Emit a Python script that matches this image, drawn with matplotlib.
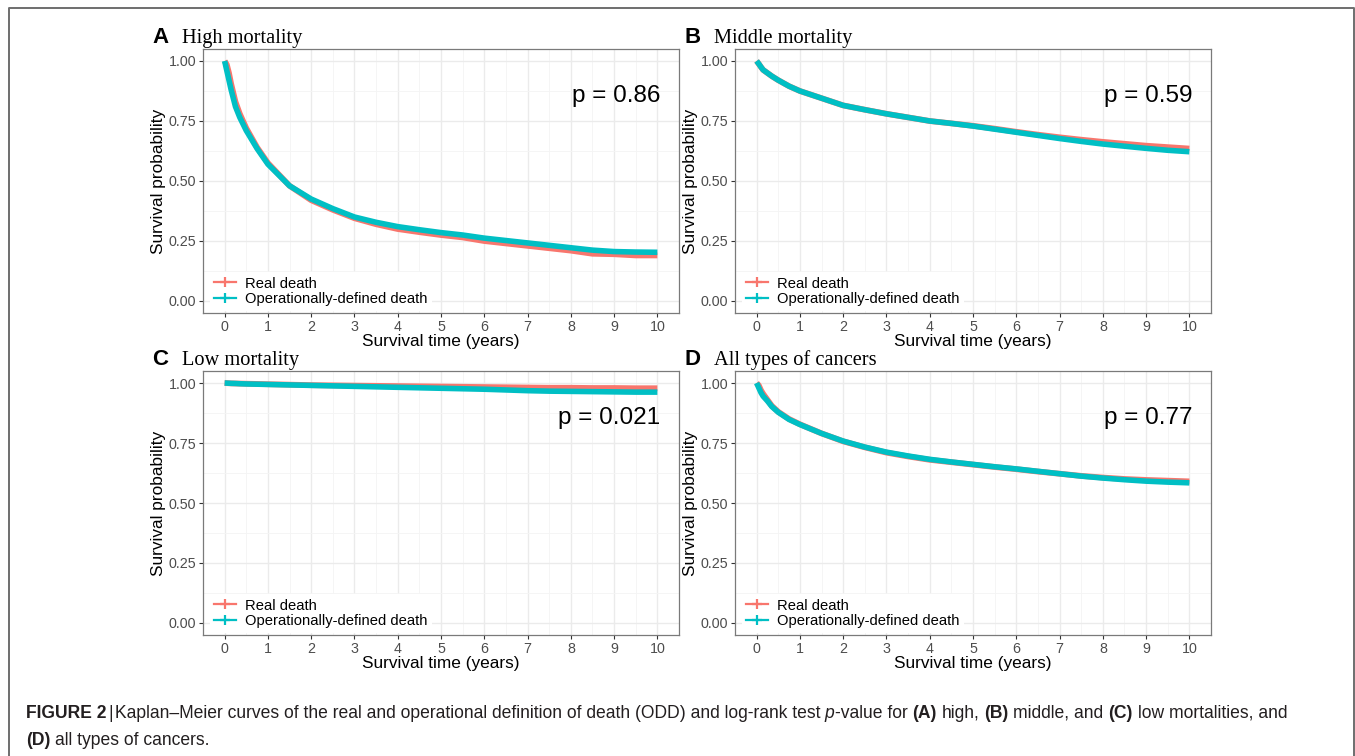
import matplotlib
matplotlib.use("Agg")
import matplotlib.pyplot as plt
from matplotlib.lines import Line2D
from matplotlib import font_manager as fm
import numpy as np

W, H = 1355, 756

# tempos (anos) em que as curvas foram lidas
tempo = [0, 0.05, 0.1, 0.15, 0.25, 0.35, 0.5, 0.75, 1, 1.5, 2, 2.5, 3, 3.5, 4, 4.5, 5, 5.5, 6, 6.5, 7, 7.5, 8, 8.5, 9, 9.5, 10]

# A - alta mortalidade
alta_real = [1.0, 0.985, 0.95, 0.905, 0.83, 0.78, 0.72, 0.64, 0.575, 0.48, 0.42, 0.38, 0.345, 0.32, 0.30, 0.287, 0.275, 0.265, 0.25, 0.24, 0.23, 0.22, 0.21, 0.197, 0.195, 0.19, 0.19]
alta_odd = [1.0, 0.96, 0.92, 0.88, 0.81, 0.765, 0.71, 0.635, 0.57, 0.48, 0.425, 0.385, 0.35, 0.328, 0.31, 0.297, 0.285, 0.275, 0.262, 0.252, 0.242, 0.232, 0.222, 0.212, 0.206, 0.204, 0.203]
# B - mortalidade intermediaria
media_real = [1.0, 0.988, 0.975, 0.963, 0.95, 0.937, 0.92, 0.895, 0.875, 0.845, 0.815, 0.797, 0.78, 0.765, 0.75, 0.74, 0.73, 0.718, 0.705, 0.693, 0.682, 0.672, 0.663, 0.655, 0.647, 0.641, 0.635]
media_odd = [1.0, 0.988, 0.975, 0.963, 0.95, 0.937, 0.92, 0.895, 0.875, 0.845, 0.815, 0.797, 0.78, 0.765, 0.75, 0.74, 0.729, 0.716, 0.703, 0.69, 0.677, 0.665, 0.654, 0.645, 0.636, 0.628, 0.622]
# C - baixa mortalidade
baixa_real = [1.0, 0.9995, 0.999, 0.9985, 0.998, 0.9975, 0.997, 0.996, 0.995, 0.993, 0.991, 0.99, 0.989, 0.988, 0.987, 0.986, 0.985, 0.984, 0.983, 0.982, 0.981, 0.98, 0.98, 0.979, 0.979, 0.978, 0.978]
baixa_odd = [1.0, 0.9995, 0.999, 0.9985, 0.998, 0.997, 0.996, 0.995, 0.994, 0.992, 0.99, 0.988, 0.986, 0.984, 0.982, 0.98, 0.978, 0.976, 0.974, 0.971, 0.968, 0.966, 0.965, 0.964, 0.963, 0.962, 0.962]
# D - todos os tipos de cancer
todos_real = [1.0, 0.99, 0.97, 0.955, 0.93, 0.905, 0.88, 0.85, 0.828, 0.79, 0.757, 0.732, 0.71, 0.694, 0.68, 0.67, 0.66, 0.65, 0.641, 0.631, 0.622, 0.613, 0.606, 0.6, 0.596, 0.593, 0.59]
todos_odd = [1.0, 0.98, 0.96, 0.945, 0.925, 0.902, 0.878, 0.848, 0.827, 0.79, 0.758, 0.733, 0.712, 0.696, 0.682, 0.671, 0.661, 0.651, 0.642, 0.632, 0.622, 0.612, 0.604, 0.597, 0.591, 0.587, 0.584]

letras = ["A", "B", "C", "D"]
titulos = ["High mortality", "Middle mortality", "Low mortality", "All types of cancers"]
pvalores = ["p = 0.86", "p = 0.59", "p = 0.021", "p = 0.77"]
curvas = [(alta_real, alta_odd), (media_real, media_odd), (baixa_real, baixa_odd), (todos_real, todos_odd)]
rotulos = ["Real death", "Operationally-defined death"]
cores = ["#F8766D", "#00BFC4"]

# caixas dos paineis em pixels: esquerda, topo, direita, base
caixas = [(203, 49, 679, 313), (735, 49, 1211, 313), (203, 371, 679, 635), (735, 371, 1211, 635)]

plt.rcParams["font.family"] = ["Liberation Sans", "DejaVu Sans"]
fig = plt.figure(figsize=(W / 100, H / 100), dpi=100)

# moldura da figura (aberta embaixo)
fig.add_artist(Line2D([9 / W, 9 / W, 1354 / W, 1354 / W], [0, 1 - 8 / H, 1 - 8 / H, 0],
                      color="#6e6e6e", lw=1.4, transform=fig.transFigure))

for i, (l, t, r, b) in enumerate(caixas):
    ax = fig.add_axes([l / W, 1 - b / H, (r - l) / W, (b - t) / H])
    real, odd = curvas[i]
    ax.plot(tempo, real, color=cores[0], lw=4.2, solid_capstyle="butt", solid_joinstyle="round")
    ax.plot(tempo, odd, color=cores[1], lw=4.0, solid_capstyle="butt", solid_joinstyle="round")
    ax.set_xlim(-0.5, 10.5)
    ax.set_ylim(-0.05, 1.05)
    ax.set_xticks(range(0, 11))
    ax.set_xticks(np.arange(0.5, 10.5, 1), minor=True)
    ax.set_yticks([0, 0.25, 0.5, 0.75, 1.0])
    ax.set_yticklabels(["0.00", "0.25", "0.50", "0.75", "1.00"])
    ax.set_yticks([0.125, 0.375, 0.625, 0.875], minor=True)
    ax.grid(True, which="major", color="#EBEBEB", lw=1.0)
    ax.grid(True, which="minor", color="#F4F4F4", lw=0.6)
    ax.set_axisbelow(True)
    ax.tick_params(which="major", length=3, width=0.8, color="#333333", labelcolor="#4D4D4D",
                   labelsize=10.3, pad=2)
    ax.tick_params(which="minor", length=0)
    for sp in ax.spines.values():
        sp.set_color("#7a7a7a")
        sp.set_linewidth(0.9)
    ax.set_ylabel("Survival probability", fontsize=12.4, labelpad=2)
    ax.set_xlabel("Survival time (years)", fontsize=12.4, labelpad=0)
    ax.text(10.07, 0.856, pvalores[i], ha="right", va="center", fontsize=17.5, color="black")

    alcas = [Line2D([], [], color=c, lw=1.6, marker="+", ms=7, mew=1.6) for c in cores]
    leg = ax.legend(alcas, rotulos, loc="lower left", bbox_to_anchor=(0.01, 0.0), fontsize=10.6,
                    frameon=True, facecolor="white", edgecolor="none", framealpha=1,
                    handlelength=1.5, handletextpad=0.6, borderaxespad=0.15, borderpad=0.3,
                    labelspacing=0.12)
    leg.get_frame().set_boxstyle("square", pad=0)

    # titulo do painel
    fig.text((l - 51) / W, 1 - (t - 6) / H, letras[i], fontsize=16, weight="bold",
             ha="left", va="baseline")
    fig.text((l - 21) / W, 1 - (t - 6) / H, titulos[i], fontsize=14.7,
             family=["Liberation Serif", "DejaVu Serif"], ha="left", va="baseline")

# legenda da figura
nomes = {f.name for f in fm.fontManager.ttflist}
fonte_leg = ["Liberation Sans Narrow", "Liberation Sans"] if "Liberation Sans Narrow" in nomes else ["Liberation Sans"]

linha1 = [("FIGURE 2", "bold", "normal", 0),
          ("|", "normal", "normal", 0.35),
          ("Kaplan–Meier curves of the real and operational definition of death (ODD) and log-rank test", "normal", "normal", 0.35),
          ("p", "normal", "italic", 1),
          ("-value for", "normal", "normal", 0),
          ("(A)", "bold", "normal", 1),
          ("high,", "normal", "normal", 1),
          ("(B)", "bold", "normal", 1),
          ("middle, and", "normal", "normal", 1),
          ("(C)", "bold", "normal", 1),
          ("low mortalities, and", "normal", "normal", 1)]
linha2 = [("(D)", "bold", "normal", 0),
          ("all types of cancers.", "normal", "normal", 1)]

renderer = fig.canvas.get_renderer()


def escrever(runs, x0, y, tam):
    textos = []
    esp = fig.text(0, 0, "x x", fontsize=tam, family=fonte_leg)
    sem = fig.text(0, 0, "xx", fontsize=tam, family=fonte_leg)
    largura_esp = esp.get_window_extent(renderer).width - sem.get_window_extent(renderer).width
    esp.remove()
    sem.remove()
    x = x0
    for txt, peso, estilo, gap in runs:
        x += gap * largura_esp
        tt = fig.text(x / W, 1 - y / H, txt, fontsize=tam, weight=peso, style=estilo,
                      family=fonte_leg, ha="left", va="baseline", color="#231f20")
        textos.append(tt)
        x += tt.get_window_extent(renderer).width
    return textos, x


tam = 11.0
textos, fim = escrever(linha1, 26, 718, tam)
tam = tam * (1290 - 26) / (fim - 26)
for tt in textos:
    tt.remove()
escrever(linha1, 26, 718, tam)
escrever(linha2, 26, 745, tam)

fig.savefig("out.png", dpi=100)
